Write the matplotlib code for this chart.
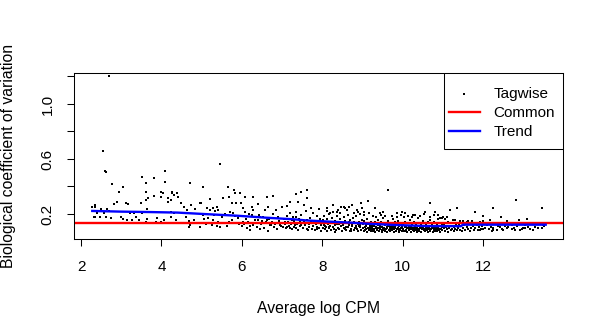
import numpy as np
import matplotlib
matplotlib.use('Agg')
from matplotlib import pyplot as plt
from matplotlib.patches import Rectangle

plt.rcParams['font.family'] = ['Liberation Sans', 'DejaVu Sans']

# common dispersion (BCV) and trended BCV
common_bcv = 0.137
trend_logcpm = [2.28, 3.0, 3.7, 4.4, 5.1, 5.9, 6.6, 7.3, 7.6, 8.2, 8.7, 9.2, 9.8, 10.6, 11.45, 11.5, 13.56]
trend_bcv = [0.222, 0.217, 0.214, 0.210, 0.199, 0.187, 0.173, 0.161, 0.153, 0.144, 0.137, 0.128,
             0.120, 0.112, 0.111, 0.122, 0.122]

# tagwise BCV, (logCPM, BCV), grouped by logCPM
tags_2_5 = [
    (2.70, 1.20), (2.55, 0.658), (2.59, 0.513), (2.62, 0.505), (2.76, 0.418), (3.04, 0.396),
    (2.94, 0.362), (3.51, 0.471), (3.81, 0.464), (4.09, 0.515), (4.08, 0.435), (3.61, 0.423),
    (4.70, 0.428), (3.61, 0.358), (3.81, 0.331), (3.66, 0.319), (3.99, 0.358), (4.03, 0.35),
    (3.99, 0.32), (4.27, 0.362), (4.31, 0.338), (4.40, 0.35), (4.42, 0.32), (4.17, 0.314),
    (2.28, 0.253), (2.34, 0.265), (2.36, 0.249), (2.32, 0.18), (2.36, 0.18), (2.47, 0.18),
    (2.49, 0.234), (2.41, 0.21), (2.57, 0.21), (2.65, 0.234), (2.70, 0.22), (2.63, 0.18),
    (2.74, 0.169), (2.82, 0.273), (2.89, 0.29), (2.99, 0.18), (3.05, 0.161), (3.13, 0.282),
    (3.17, 0.273), (3.22, 0.205), (3.32, 0.21), (3.15, 0.156), (3.28, 0.156), (3.36, 0.18),
    (3.48, 0.278), (3.61, 0.302), (3.65, 0.234), (3.52, 0.205), (3.44, 0.156), (3.61, 0.144),
    (3.65, 0.161), (3.86, 0.144), (3.90, 0.169), (4.00, 0.144), (4.06, 0.156), (4.23, 0.217),
    (4.31, 0.205), (4.23, 0.18), (4.36, 0.156), (4.31, 0.137), (4.17, 0.29), (4.23, 0.302),
    (4.27, 0.35), (4.48, 0.278), (4.56, 0.253), (4.64, 0.229), (4.60, 0.18), (4.69, 0.151),
    (4.71, 0.12), (4.81, 0.156), (4.94, 0.132), (4.73, 0.265), (4.83, 0.234), (4.98, 0.278),
    (4.69, 0.103), (4.96, 0.108),
]
tags_5_7 = [
    (5.03, 0.396), (5.47, 0.564), (5.21, 0.309), (5.66, 0.396), (5.80, 0.375), (5.82, 0.355),
    (5.96, 0.355), (5.52, 0.316), (5.68, 0.324), (6.27, 0.324), (6.63, 0.324), (6.08, 0.326),
    (6.40, 0.27), (6.78, 0.33), (4.96, 0.278), (5.14, 0.241), (5.21, 0.229), (5.29, 0.241),
    (5.33, 0.224), (5.38, 0.253), (5.42, 0.229), (5.04, 0.193), (5.17, 0.169), (5.29, 0.156),
    (5.42, 0.144), (5.46, 0.103), (5.25, 0.12), (5.38, 0.113), (5.54, 0.132), (5.62, 0.113),
    (5.75, 0.278), (5.86, 0.278), (5.97, 0.282), (5.71, 0.217), (5.79, 0.205), (5.75, 0.156),
    (5.87, 0.132), (5.91, 0.169), (6.00, 0.113), (6.04, 0.241), (6.08, 0.217), (6.25, 0.253),
    (6.29, 0.229), (6.25, 0.193), (6.33, 0.156), (6.29, 0.12), (6.41, 0.156), (6.45, 0.18),
    (6.53, 0.18), (6.58, 0.229), (6.62, 0.156), (6.66, 0.253), (6.70, 0.12), (6.74, 0.144),
    (6.80, 0.103), (6.85, 0.229), (6.91, 0.18), (6.95, 0.12), (6.99, 0.253),
    (5.05, 0.165), (5.10, 0.13), (5.50, 0.175), (5.58, 0.2), (5.68, 0.145), (5.83, 0.185),
    (5.93, 0.125), (5.30, 0.19), (6.02, 0.145), (6.06, 0.128), (6.10, 0.165), (6.12, 0.098),
    (6.15, 0.138), (6.18, 0.2), (6.21, 0.115), (6.36, 0.135), (6.38, 0.105), (6.43, 0.19),
    (6.48, 0.125), (6.50, 0.148), (6.56, 0.098), (6.60, 0.138), (6.68, 0.165), (6.72, 0.122),
    (6.78, 0.198), (6.82, 0.13), (6.88, 0.092), (6.93, 0.15), (6.97, 0.115), (6.20, 0.085),
    (6.46, 0.088), (6.64, 0.078),
]
tags_7_8 = [
    (7.03, 0.103), (7.07, 0.144), (7.12, 0.108), (7.16, 0.132), (7.20, 0.096), (7.20, 0.29),
    (7.24, 0.156), (7.28, 0.18), (7.32, 0.12), (7.36, 0.217), (7.40, 0.29), (7.45, 0.144),
    (7.35, 0.345), (7.47, 0.36), (7.61, 0.316), (7.61, 0.375),
    (7.05, 0.165), (7.08, 0.125), (7.10, 0.095), (7.13, 0.185), (7.15, 0.14), (7.18, 0.115),
    (7.21, 0.205), (7.23, 0.13), (7.26, 0.09), (7.29, 0.15), (7.31, 0.105), (7.34, 0.175),
    (7.37, 0.125), (7.39, 0.085), (7.42, 0.16), (7.44, 0.11), (7.47, 0.195), (7.49, 0.135),
    (7.52, 0.098), (7.54, 0.145), (7.57, 0.118), (7.59, 0.225), (7.61, 0.088), (7.63, 0.155),
    (7.66, 0.128), (7.68, 0.102), (7.70, 0.17), (7.72, 0.138), (7.74, 0.092), (7.76, 0.21),
    (7.78, 0.115), (7.80, 0.148), (7.82, 0.082), (7.84, 0.125), (7.86, 0.182), (7.88, 0.105),
    (7.90, 0.14), (7.92, 0.095), (7.94, 0.162), (7.96, 0.118), (7.98, 0.078), (7.99, 0.132),
    (7.12, 0.255), (7.55, 0.262), (7.71, 0.242), (7.93, 0.235), (7.65, 0.08), (7.36, 0.098),
    (7.87, 0.09), (7.48, 0.12),
]
tags_8_9 = [
    (8.11, 0.241), (8.19, 0.21), (8.28, 0.217), (8.40, 0.229), (8.44, 0.205), (8.53, 0.253),
    (8.57, 0.241), (8.67, 0.253), (8.73, 0.265), (8.86, 0.229), (8.90, 0.217), (8.97, 0.278),
    (8.01, 0.155), (8.02, 0.098), (8.04, 0.12), (8.05, 0.182), (8.07, 0.088), (8.08, 0.138),
    (8.10, 0.108), (8.12, 0.165), (8.13, 0.078), (8.15, 0.128), (8.17, 0.095), (8.18, 0.198),
    (8.20, 0.115), (8.22, 0.145), (8.23, 0.085), (8.25, 0.172), (8.27, 0.105), (8.28, 0.132),
    (8.30, 0.092), (8.32, 0.152), (8.33, 0.118), (8.35, 0.08), (8.37, 0.188), (8.38, 0.125),
    (8.40, 0.1), (8.42, 0.142), (8.43, 0.088), (8.45, 0.162), (8.47, 0.112), (8.48, 0.135),
    (8.50, 0.076), (8.52, 0.122), (8.53, 0.175), (8.55, 0.095), (8.57, 0.148), (8.58, 0.108),
    (8.60, 0.085), (8.62, 0.132), (8.63, 0.192), (8.65, 0.102), (8.67, 0.118), (8.68, 0.078),
    (8.70, 0.158), (8.72, 0.092), (8.73, 0.128), (8.75, 0.11), (8.77, 0.168), (8.78, 0.082),
    (8.80, 0.138), (8.82, 0.098), (8.83, 0.115), (8.85, 0.182), (8.87, 0.088), (8.88, 0.125),
    (8.90, 0.075), (8.92, 0.145), (8.93, 0.105), (8.95, 0.118), (8.97, 0.085), (8.98, 0.155),
    (8.11, 0.222), (8.36, 0.215), (8.61, 0.232), (8.79, 0.205), (8.94, 0.198), (8.26, 0.262),
    (8.46, 0.248), (8.06, 0.112), (8.31, 0.07), (8.56, 0.09), (8.71, 0.074), (8.84, 0.095),
    (8.16, 0.102), (8.41, 0.128), (8.66, 0.14), (8.91, 0.11),
]
tags_9_10 = [
    (9.00, 0.241), (9.05, 0.217), (9.15, 0.297), (9.31, 0.241), (9.44, 0.205), (9.52, 0.217),
    (9.64, 0.375), (9.85, 0.21), (9.98, 0.217),
    (9.01, 0.095), (9.02, 0.128), (9.04, 0.078), (9.05, 0.152), (9.06, 0.108), (9.08, 0.088),
    (9.09, 0.118), (9.11, 0.072), (9.12, 0.165), (9.14, 0.098), (9.15, 0.135), (9.16, 0.082),
    (9.18, 0.112), (9.19, 0.092), (9.21, 0.145), (9.22, 0.075), (9.24, 0.122), (9.25, 0.102),
    (9.26, 0.185), (9.28, 0.085), (9.29, 0.115), (9.31, 0.07), (9.32, 0.138), (9.34, 0.095),
    (9.35, 0.108), (9.36, 0.08), (9.38, 0.158), (9.39, 0.1), (9.41, 0.125), (9.42, 0.076),
    (9.44, 0.09), (9.45, 0.112), (9.46, 0.142), (9.48, 0.072), (9.49, 0.105), (9.51, 0.088),
    (9.52, 0.172), (9.54, 0.098), (9.55, 0.118), (9.56, 0.078), (9.58, 0.132), (9.59, 0.092),
    (9.61, 0.108), (9.62, 0.07), (9.64, 0.152), (9.65, 0.085), (9.66, 0.115), (9.68, 0.095),
    (9.69, 0.075), (9.71, 0.128), (9.72, 0.102), (9.74, 0.082), (9.75, 0.162), (9.76, 0.11),
    (9.78, 0.072), (9.79, 0.092), (9.81, 0.138), (9.82, 0.105), (9.84, 0.078), (9.85, 0.118),
    (9.86, 0.088), (9.88, 0.148), (9.89, 0.098), (9.91, 0.07), (9.92, 0.112), (9.94, 0.082),
    (9.95, 0.125), (9.96, 0.095), (9.98, 0.075), (9.99, 0.105), (9.03, 0.19), (9.17, 0.205),
    (9.33, 0.178), (9.47, 0.195), (9.57, 0.188), (9.73, 0.182), (9.87, 0.175), (9.97, 0.195),
    (9.10, 0.11), (9.20, 0.1), (9.30, 0.088), (9.40, 0.118), (9.50, 0.08), (9.60, 0.098),
    (9.70, 0.088), (9.80, 0.1), (9.90, 0.085), (9.13, 0.126), (9.37, 0.13), (9.63, 0.122),
    (9.83, 0.128), (9.07, 0.082), (9.23, 0.09), (9.27, 0.076), (9.43, 0.1), (9.53, 0.086),
    (9.67, 0.08), (9.77, 0.096), (9.93, 0.092),
]
tags_10_11 = [
    (10.06, 0.21), (10.23, 0.18), (10.31, 0.193), (10.56, 0.217), (10.68, 0.282), (10.81, 0.217),
    (10.89, 0.193), (10.97, 0.169),
    (10.01, 0.092), (10.02, 0.122), (10.04, 0.075), (10.05, 0.105), (10.06, 0.145), (10.08, 0.085),
    (10.09, 0.112), (10.11, 0.07), (10.12, 0.098), (10.14, 0.132), (10.15, 0.08), (10.16, 0.108),
    (10.18, 0.09), (10.19, 0.158), (10.21, 0.072), (10.22, 0.102), (10.24, 0.118), (10.25, 0.082),
    (10.26, 0.095), (10.28, 0.138), (10.29, 0.075), (10.31, 0.11), (10.32, 0.088), (10.34, 0.125),
    (10.35, 0.07), (10.36, 0.1), (10.38, 0.168), (10.39, 0.085), (10.41, 0.115), (10.42, 0.078),
    (10.44, 0.095), (10.45, 0.132), (10.46, 0.072), (10.48, 0.105), (10.49, 0.088), (10.51, 0.148),
    (10.52, 0.08), (10.54, 0.112), (10.55, 0.092), (10.56, 0.075), (10.58, 0.122), (10.59, 0.098),
    (10.61, 0.082), (10.62, 0.138), (10.64, 0.07), (10.65, 0.105), (10.66, 0.088), (10.68, 0.155),
    (10.69, 0.078), (10.71, 0.11), (10.72, 0.095), (10.74, 0.128), (10.75, 0.072), (10.76, 0.1),
    (10.78, 0.085), (10.79, 0.142), (10.81, 0.075), (10.82, 0.108), (10.84, 0.09), (10.85, 0.118),
    (10.86, 0.078), (10.88, 0.162), (10.89, 0.098), (10.91, 0.082), (10.92, 0.112), (10.94, 0.072),
    (10.95, 0.132), (10.96, 0.092), (10.98, 0.085), (10.99, 0.105), (10.03, 0.175), (10.13, 0.188),
    (10.27, 0.195), (10.43, 0.182), (10.53, 0.2), (10.67, 0.178), (10.77, 0.19), (10.93, 0.172),
    (10.10, 0.1), (10.20, 0.09), (10.30, 0.095), (10.40, 0.09), (10.50, 0.1), (10.60, 0.088),
    (10.70, 0.092), (10.80, 0.1), (10.90, 0.09), (10.23, 0.13), (10.47, 0.12), (10.73, 0.125),
    (10.97, 0.122), (10.07, 0.078), (10.17, 0.096), (10.33, 0.08), (10.37, 0.092), (10.53, 0.086),
    (10.63, 0.096), (10.77, 0.08), (10.87, 0.094),
]
tags_11_14 = [
    (11.01, 0.18), (11.10, 0.18), (11.18, 0.229), (11.35, 0.246), (11.26, 0.156), (11.43, 0.151),
    (11.51, 0.151), (11.63, 0.151), (11.72, 0.151), (11.80, 0.215), (11.93, 0.144), (12.01, 0.151),
    (11.99, 0.185), (12.17, 0.156), (12.24, 0.246), (12.46, 0.178), (12.59, 0.151), (12.82, 0.30),
    (12.90, 0.156), (13.09, 0.166), (13.46, 0.137), (13.48, 0.246),
    (11.93, 0.084), (12.01, 0.089), (12.22, 0.079), (12.26, 0.084), (12.51, 0.084), (12.59, 0.096),
    (12.71, 0.089), (12.80, 0.084), (12.92, 0.084), (12.96, 0.089), (13.04, 0.096), (13.13, 0.103),
    (13.25, 0.084), (13.46, 0.096), (13.52, 0.113), (12.38, 0.113), (12.71, 0.12), (13.04, 0.12),
    (11.02, 0.095), (11.04, 0.125), (11.06, 0.078), (11.08, 0.108), (11.10, 0.088), (11.12, 0.142),
    (11.14, 0.072), (11.16, 0.1), (11.18, 0.115), (11.20, 0.082), (11.22, 0.092), (11.24, 0.132),
    (11.27, 0.076), (11.29, 0.105), (11.31, 0.088), (11.33, 0.118), (11.35, 0.08), (11.37, 0.098),
    (11.40, 0.125), (11.42, 0.085), (11.44, 0.11), (11.47, 0.075), (11.50, 0.095), (11.53, 0.118),
    (11.56, 0.082), (11.59, 0.102), (11.62, 0.088), (11.65, 0.128), (11.68, 0.078), (11.71, 0.098),
    (11.74, 0.112), (11.77, 0.085), (11.80, 0.095), (11.84, 0.122), (11.87, 0.08), (11.90, 0.105),
    (11.94, 0.09), (11.97, 0.115), (11.60, 0.14), (11.85, 0.135), (11.30, 0.158), (11.05, 0.165),
    (12.05, 0.1), (12.10, 0.12), (12.14, 0.088), (12.19, 0.108), (12.24, 0.095), (12.30, 0.125),
    (12.34, 0.082), (12.42, 0.102), (12.47, 0.092), (12.55, 0.115), (12.63, 0.105), (12.68, 0.13),
    (12.76, 0.098), (12.85, 0.11), (12.99, 0.1), (13.08, 0.128), (13.18, 0.092), (13.30, 0.108),
    (13.38, 0.098), (13.50, 0.12),
]

tagwise = np.array(tags_2_5 + tags_5_7 + tags_7_8 + tags_8_9 + tags_9_10 + tags_10_11 + tags_11_14)

fig = plt.figure(figsize=(5.94, 3.26), dpi=100)
ax = fig.add_axes([0.1246, 0.2669, 0.8232, 0.5092])

ax.scatter(tagwise[:, 0], tagwise[:, 1], s=3.4, marker='s', color='black', linewidths=0, label='Tagwise')
ax.axhline(common_bcv, color='red', lw=1.7, label='Common')
ax.plot(trend_logcpm, trend_bcv, color='blue', lw=1.7, label='Trend')

ax.set_xlim(1.826, 13.99)
ax.set_ylim(0.018, 1.2255)
ax.set_xticks([2, 4, 6, 8, 10, 12])
ax.set_yticks([0.2, 0.4, 0.6, 0.8, 1.0, 1.2])
ax.set_yticklabels(['0.2', '', '0.6', '', '1.0', ''])
ax.tick_params(axis='both', length=5, width=0.75, labelsize=11, pad=9)
ax.tick_params(axis='x', pad=10)
ax.tick_params(axis='y', labelrotation=90)
for lab in ax.get_yticklabels():
    lab.set_va('center')
for sp in ax.spines.values():
    sp.set_linewidth(0.75)

fig.text(0.536, 0.055, 'Average log CPM', ha='center', va='center', fontsize=11.3)
fig.text(0.015, 0.521, 'Biological coefficient of variation', ha='center', va='center',
         rotation=90, fontsize=11.3)

# legend box like R's: frame drawn separately, entries placed inside
ax.add_patch(Rectangle((0.7566, 0.5422), 0.2434, 0.4578, transform=ax.transAxes,
                       facecolor='white', edgecolor='black', lw=0.75, zorder=4))
leg = ax.legend(loc='upper left', bbox_to_anchor=(0.7559, 0.7331), bbox_transform=fig.transFigure,
                borderaxespad=0, borderpad=0, frameon=False, fontsize=11, handlelength=2.0,
                handletextpad=0.9, labelspacing=0.33, scatterpoints=1, markerscale=1.0)
leg.set_zorder(5)

fig.savefig('out.png', dpi=100)
